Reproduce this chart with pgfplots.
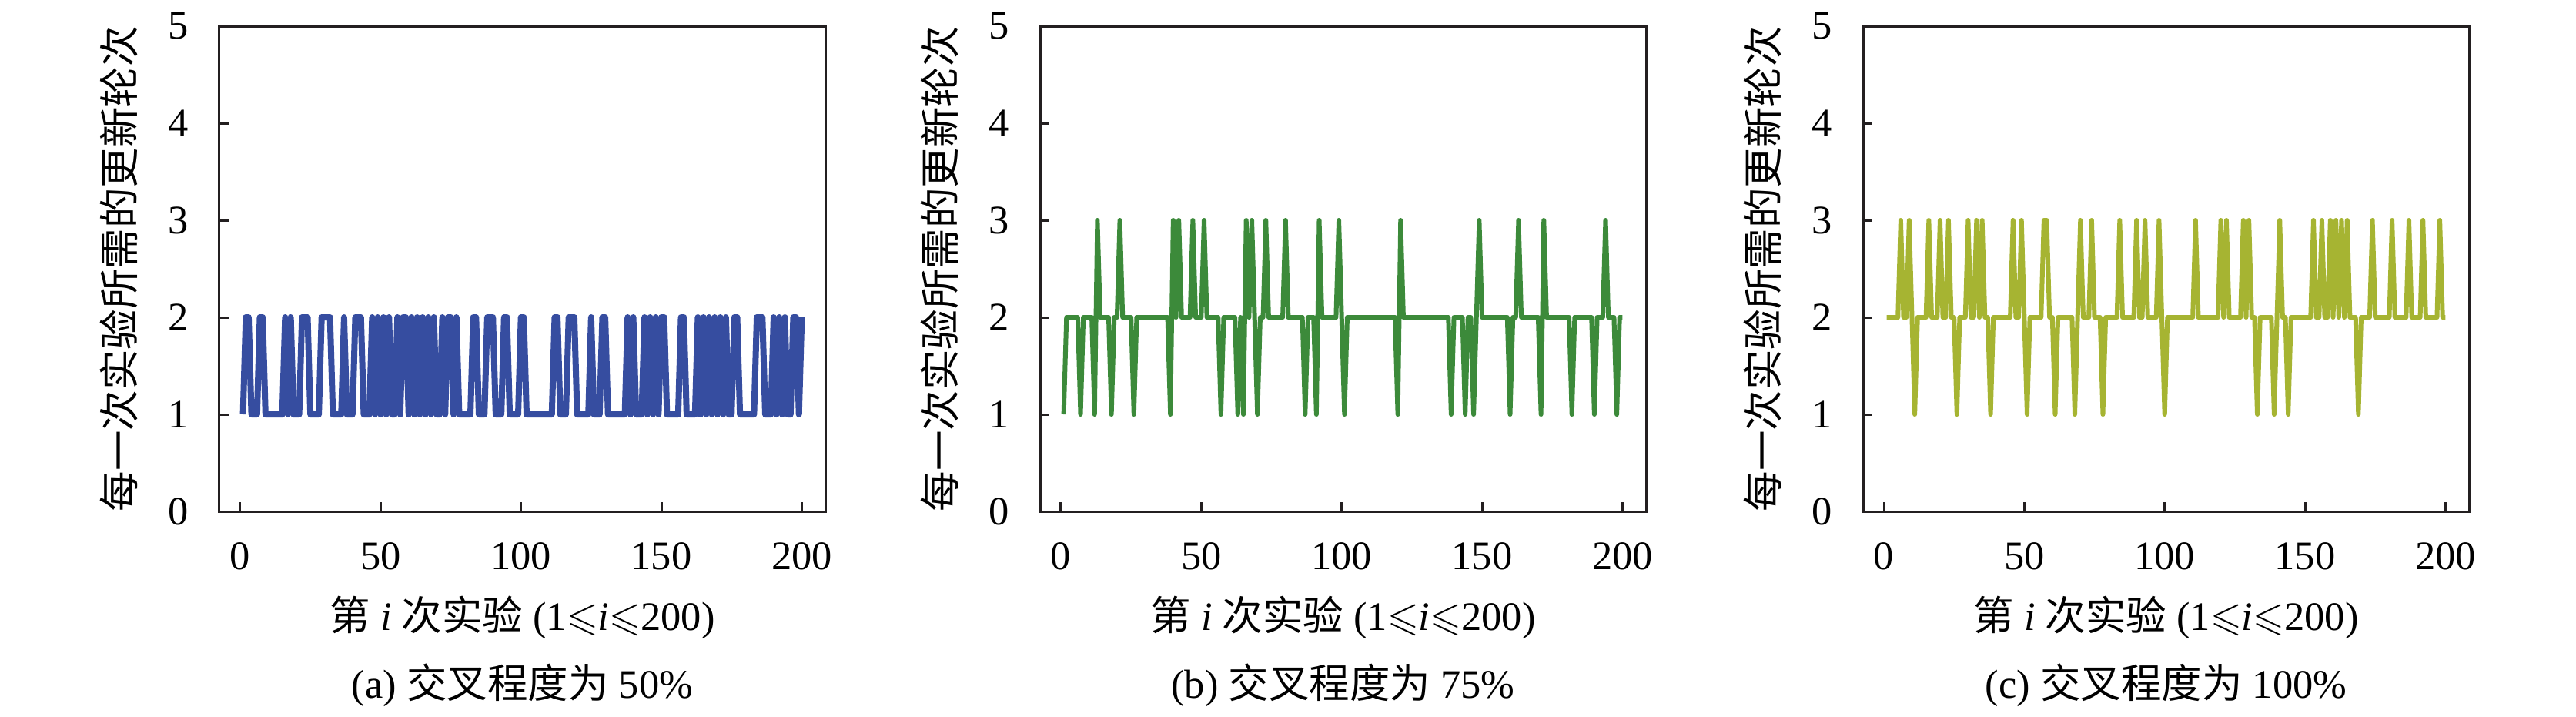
\documentclass[border=0pt]{standalone}
\usepackage{amssymb}
\usepackage{fontspec}
\usepackage{pgfplots}
\usepackage{pgfplotstable}
\pgfplotsset{compat=1.18}
\setmainfont{Liberation Serif}
\newfontfamily\cjk{Noto Sans CJK SC}
\definecolor{axcol}{HTML}{231F20}
\definecolor{cblue}{HTML}{364DA0}
\definecolor{cgreen}{HTML}{3C8A3A}
\definecolor{colive}{HTML}{A6B432}

\pgfplotstableread{
i a b c
1 1 1 2
2 2 2 2
3 2 2 2
4 1 2 2
5 1 2 2
6 1 2 3
7 2 1 2
8 2 2 2
9 1 2 3
10 1 2 2
11 1 2 1
12 1 1 2
13 1 3 2
14 1 2 2
15 1 2 2
16 2 2 3
17 1 2 2
18 2 1 2
19 1 2 2
20 1 2 3
21 1 3 2
22 2 2 2
23 2 2 3
24 2 2 2
25 1 2 2
26 1 1 1
27 1 2 2
28 1 2 2
29 2 2 2
30 2 2 3
31 2 2 2
32 2 2 2
33 1 2 3
34 1 2 2
35 1 2 3
36 1 2 2
37 2 2 2
38 1 2 1
39 1 1 2
40 1 3 2
41 2 2 2
42 2 3 2
43 2 2 2
44 1 2 2
45 1 2 2
46 1 2 3
47 2 3 2
48 1 2 2
49 2 2 3
50 1 2 2
51 2 3 1
52 1 2 2
53 2 2 2
54 1 2 2
55 1 2 2
56 2 2 2
57 1 1 3
58 2 2 3
59 2 2 2
60 1 2 2
61 2 2 1
62 1 2 2
63 2 1 2
64 1 2 2
65 2 1 2
66 1 3 2
67 2 2 2
68 1 3 1
69 2 2 2
70 1 1 3
71 1 2 2
72 2 2 2
73 1 3 2
74 2 2 3
75 2 2 2
76 1 2 2
77 2 2 2
78 1 2 1
79 1 2 2
80 1 3 2
81 1 2 2
82 1 2 2
83 2 2 2
84 2 2 3
85 1 2 2
86 1 2 2
87 1 1 2
88 2 2 2
89 2 2 2
90 2 2 3
91 1 1 2
92 1 3 2
93 1 2 3
94 2 2 2
95 2 2 2
96 1 2 2
97 1 2 2
98 1 2 3
99 1 3 2
100 2 2 1
101 2 1 2
102 1 2 2
103 1 2 2
104 1 2 2
105 1 2 2
106 1 2 2
107 1 2 2
108 1 2 2
109 1 2 2
110 1 2 2
111 1 2 3
112 2 2 2
113 2 2 2
114 1 2 2
115 1 2 2
116 1 2 2
117 2 2 2
118 2 2 2
119 2 2 2
120 1 1 3
121 1 3 2
122 1 2 3
123 1 2 2
124 1 2 2
125 2 2 2
126 1 2 2
127 1 2 2
128 1 2 3
129 2 2 2
130 2 2 3
131 1 2 2
132 1 2 2
133 1 2 1
134 1 2 2
135 1 2 2
136 1 2 2
137 1 2 2
138 2 2 2
139 1 1 1
140 2 2 2
141 1 2 3
142 1 2 2
143 1 2 2
144 2 1 1
145 1 2 2
146 2 2 2
147 1 1 2
148 2 2 2
149 1 3 2
150 2 2 2
151 2 2 2
152 1 2 2
153 1 2 3
154 1 2 2
155 1 2 2
156 1 2 3
157 2 2 2
158 2 2 2
159 1 2 3
160 1 1 2
161 1 2 3
162 1 2 2
163 2 3 3
164 1 2 2
165 2 2 3
166 1 2 2
167 2 2 2
168 1 2 2
169 2 2 1
170 1 2 2
171 2 1 2
172 1 3 2
173 2 2 2
174 1 2 3
175 1 2 2
176 2 2 2
177 2 2 2
178 1 2 2
179 1 2 2
180 1 2 2
181 1 2 3
182 1 1 2
183 1 2 2
184 2 2 2
185 2 2 2
186 2 2 2
187 1 2 3
188 1 2 2
189 1 2 2
190 2 1 2
191 1 2 2
192 2 2 3
193 1 2 2
194 2 3 2
195 1 2 2
196 1 2 2
197 2 2 2
198 2 1 3
199 1 2 2
200 2 2 2
}\data

\pgfplotsset{
  myaxis/.style={
    scale only axis, width=157.4pt, height=126pt,
    xmin=-7.4, xmax=208.4, ymin=0, ymax=5,
    xtick={0,50,100,150,200}, ytick={0,1,2,3,4,5},
    tick align=inside, major tick length=2.4pt,
    xtick pos=left, ytick pos=left,
    axis line style={line width=0.6pt, color=axcol},
    every tick/.style={line width=0.6pt, color=axcol},
    tick label style={font=\fontsize{10.5}{12}\selectfont, color=black},
    /pgf/number format/assume math mode=true,
    xticklabel style={inner sep=0pt, anchor=north, yshift=-8pt},
    yticklabel style={inner sep=0pt, anchor=east, xshift=-7.8pt},
    anchor=south west,
  }
}

\newcommand{\ylab}{{\cjk 每一次实验所需的更新轮次}}
\newcommand{\xlab}{{\cjk 第} \textit{i} {\cjk 次实验} (1$\leqslant$\textit{i}$\leqslant$200)}

\begin{document}
\begin{tikzpicture}
\path[use as bounding box] (0,0) rectangle (669.2pt,186pt);
\fontsize{10.5}{12}\selectfont

\begin{axis}[myaxis, at={(57pt,53.2pt)}]
\addplot[color=cblue, line width=1.6pt, line join=round] table[x=i, y=a] {\data};
\end{axis}
\begin{axis}[myaxis, at={(270.2pt,53.2pt)}]
\addplot[color=cgreen, line width=1.2pt, line join=round] table[x=i, y=b] {\data};
\end{axis}
\begin{axis}[myaxis, at={(484pt,53.2pt)}]
\addplot[color=colive, line width=1.2pt, line join=round] table[x=i, y=c] {\data};
\end{axis}

\foreach \cx/\yx/\cap in {135.7pt/30.8pt/{(a) {\cjk 交叉程度为} 50\%}, 348.9pt/244pt/{(b) {\cjk 交叉程度为} 75\%}, 562.7pt/457.8pt/{(c) {\cjk 交叉程度为} 100\%}}{
  \node[rotate=90, inner sep=0pt, font=\fontsize{10.5}{12}\selectfont] at (\yx,116.2pt) {\ylab};
  \node[inner sep=0pt, font=\fontsize{10.5}{12}\selectfont] at (\cx,25.6pt) {\xlab};
  \node[inner sep=0pt, font=\fontsize{10.5}{12}\selectfont] at (\cx,8pt) {\cap};
}
\end{tikzpicture}
\end{document}
